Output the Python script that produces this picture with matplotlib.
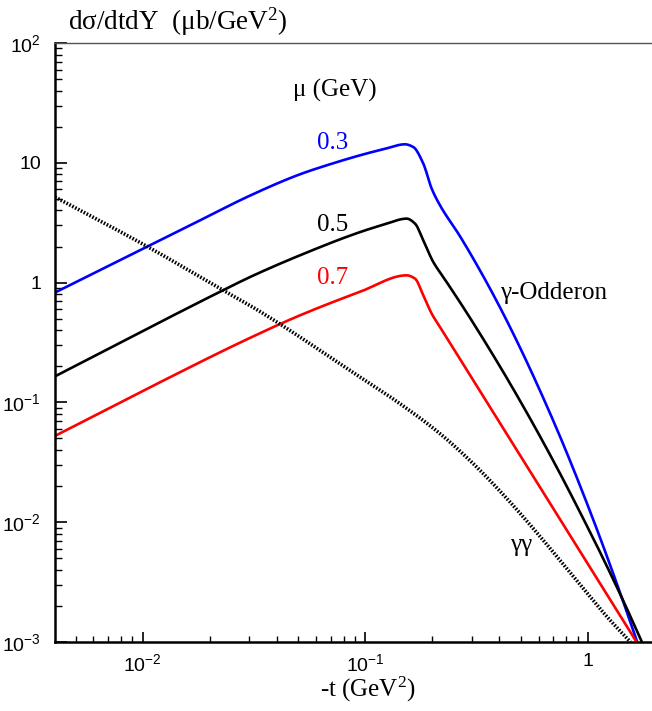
import numpy as np
import matplotlib
matplotlib.use("Agg")
import matplotlib.pyplot as plt
from matplotlib.ticker import LogLocator, FixedLocator, NullFormatter

plt.rcParams['font.family'] = ['Liberation Sans', 'DejaVu Sans']
plt.rcParams['mathtext.default'] = 'regular'

# ---- data ----
t_blue = [0.00404, 0.01025, 0.01811, 0.0304, 0.0509, 0.0694, 0.0947, 0.1226, 0.1508, 0.1642,
          0.1822, 0.1987, 0.2165, 0.2662, 0.3273, 0.4026, 0.4951, 0.6088, 0.7487, 0.9205,
          1.132, 1.392, 1.665]
v_blue = [0.826, 1.952, 3.31, 5.33, 8.02, 9.72, 11.55, 13.09, 14.27, 13.55,
          9.85, 6.09, 4.42, 2.44, 1.267, 0.622, 0.2877, 0.1257, 0.0521, 0.0203,
          0.00748, 0.0026, 0.001]

t_black = [0.00404, 0.02296, 0.0304, 0.0509, 0.0947, 0.1226, 0.1534, 0.1672, 0.1822, 0.2020,
           0.2240, 0.2755, 0.3388, 0.4166, 0.5123, 0.6300, 0.7747, 0.9526, 1.171, 1.440, 1.748]
v_black = [0.165, 0.863, 1.114, 1.69, 2.64, 3.07, 3.42, 3.11, 2.25, 1.486,
           1.114, 0.622, 0.338, 0.1794, 0.0926, 0.0465, 0.02267, 0.01072, 0.00497, 0.002216, 0.001]

t_red = [0.00404, 0.01079, 0.0304, 0.0509, 0.0947, 0.1534, 0.1672, 0.1822, 0.1987, 0.2165,
         0.2400, 0.2755, 0.3273, 0.4314, 0.6410, 0.9526, 1.2556, 1.654]
v_red = [0.0525, 0.1337, 0.346, 0.533, 0.838, 1.15, 1.080, 0.783, 0.551, 0.426,
         0.3132, 0.208, 0.1245, 0.0547, 0.01684, 0.00518, 0.002277, 0.001]

t_gg = [0.00404, 0.01025, 0.02296, 0.032, 0.0407, 0.0853, 0.143, 0.2165, 0.3055, 0.4395,
        0.6088, 0.8592, 1.213, 1.552]
v_gg = [5.18, 2.05, 0.863, 0.607, 0.460, 0.185, 0.0977, 0.0549, 0.0308, 0.01524,
        0.00762, 0.003535, 0.001639, 0.001]

mu_labels = ['0.3', '0.5', '0.7']
colors = ['#0000ff', '#000000', '#ff0000']

yticks = [1e-3, 1e-2, 1e-1, 1, 10, 100]
ytick_labels = ['$10^{-3}$', '$10^{-2}$', '$10^{-1}$', '1', '10', '$10^{2}$']
xticks = [1e-2, 1e-1, 1]
xtick_labels = ['$10^{-2}$', '$10^{-1}$', '1']


def pchip_loglog(t, v, n=600):
    """Monotone cubic (Fritsch-Carlson) through the read points, in log-log space."""
    x = np.log10(np.asarray(t, float))
    y = np.log10(np.asarray(v, float))
    h = np.diff(x)
    d = np.diff(y) / h
    m = np.zeros_like(x)
    for k in range(1, len(x) - 1):
        if d[k - 1] * d[k] <= 0:
            m[k] = 0.0
        else:
            w1 = 2 * h[k] + h[k - 1]
            w2 = h[k] + 2 * h[k - 1]
            m[k] = (w1 + w2) / (w1 / d[k - 1] + w2 / d[k])
    m[0] = d[0]
    m[-1] = d[-1]
    xs = np.linspace(x[0], x[-1], n)
    idx = np.clip(np.searchsorted(x, xs) - 1, 0, len(h) - 1)
    s = (xs - x[idx]) / h[idx]
    h00 = 2 * s**3 - 3 * s**2 + 1
    h10 = s**3 - 2 * s**2 + s
    h01 = -2 * s**3 + 3 * s**2
    h11 = s**3 - s**2
    ys = h00 * y[idx] + h10 * h[idx] * m[idx] + h01 * y[idx + 1] + h11 * h[idx] * m[idx + 1]
    return 10**xs, 10**ys


# ---- figure ----
fig = plt.figure(figsize=(6.52, 7.11), dpi=100)
ax = fig.add_axes([55/652, 69/711, 1 - 55/652, (642 - 43)/711])

for t, v, c in zip([t_blue, t_black, t_red], [v_blue, v_black, v_red], colors):
    xs, ys = pchip_loglog(t, v)
    ax.plot(xs, ys, color=c, lw=1.9, solid_joinstyle='round', solid_capstyle='butt')
xs, ys = pchip_loglog(t_gg, v_gg)
ax.plot(xs, ys, color='black', lw=2.6, linestyle=(0, (0.45, 0.45)))

ax.set_xscale('log')
ax.set_yscale('log')
ax.set_xlim(0.00404, 1.94)
ax.set_ylim(1e-3, 1e2)

ax.yaxis.set_major_locator(FixedLocator(yticks))
ax.set_yticklabels(ytick_labels, fontsize=14)
ax.yaxis.set_minor_locator(LogLocator(base=10, subs=np.arange(2, 10)))
ax.yaxis.set_minor_formatter(NullFormatter())
ax.xaxis.set_major_locator(FixedLocator(xticks))
ax.set_xticklabels(xtick_labels, fontsize=14)
ax.xaxis.set_minor_locator(LogLocator(base=10, subs=np.arange(2, 10)))
ax.xaxis.set_minor_formatter(NullFormatter())

ax.tick_params(axis='y', which='major', direction='in', length=8.5, width=1.2, pad=10)
ax.tick_params(axis='y', which='minor', direction='in', length=5, width=1.0)
ax.tick_params(axis='x', which='major', direction='in', length=7.5, width=1.2, pad=8)
ax.tick_params(axis='x', which='minor', direction='in', length=4, width=1.0)
ax.tick_params(top=False, right=False)

ax.spines['right'].set_visible(False)
ax.spines['top'].set_color('#555555')
ax.spines['top'].set_linewidth(1.0)
ax.spines['left'].set_linewidth(1.8)
ax.spines['bottom'].set_linewidth(1.8)

serif = ['Liberation Serif', 'DejaVu Serif']
fs = 18
fig.text(68/652, 1 - 22/711, 'dσ/dtdY  (μb/GeV$^{2}$)', family=serif, fontsize=19.5, va='center', ha='left')
fig.text(368/652, 1 - 689/711, '-t (GeV$^{2}$)', family=serif, fontsize=fs, va='center', ha='center')
fig.text(293/652, 1 - 90/711, 'μ (GeV)', family=serif, fontsize=fs, va='center', ha='left')
for lab, c, yy in zip(mu_labels, colors, [143, 225, 278]):
    fig.text(317/652, 1 - yy/711, lab, family=serif, fontsize=fs, color=c, va='center', ha='left')
fig.text(500/652, 1 - 293/711, 'γ-Odderon', family=serif, fontsize=fs, va='center', ha='left')
fig.text(510/652, 1 - 545/711, 'γγ', family=serif, fontsize=fs, va='center', ha='left')

fig.savefig('out.png', dpi=100)
